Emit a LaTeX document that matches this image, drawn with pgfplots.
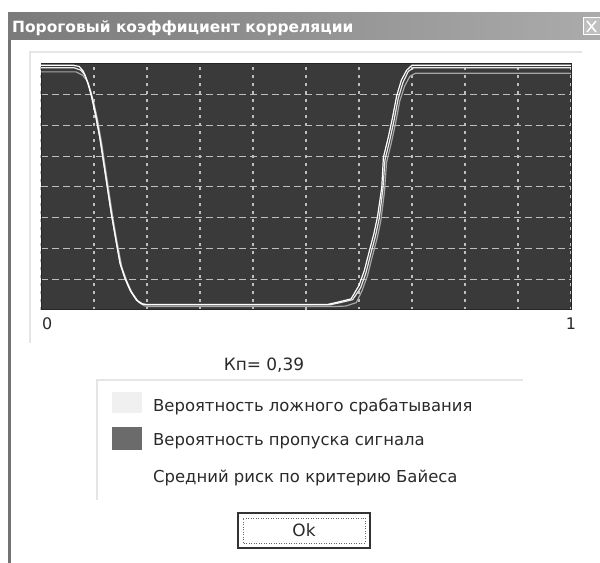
\documentclass[border=0pt]{standalone}
\usepackage{fontspec}
\setmainfont{DejaVu Sans}
\usepackage{pgfplots}
\pgfplotsset{compat=1.18}
\definecolor{plotbg}{HTML}{3A3A3A}
\definecolor{gridc}{HTML}{BEBEBE}
\definecolor{txt}{HTML}{2A2A2A}
\pgfplotstableread{
x y
0 0.995
0.06 0.995
0.072 0.99
0.080 0.97
0.088 0.925
0.095 0.87
0.102 0.80
0.111 0.70
0.118 0.60
0.125 0.50
0.132 0.40
0.140 0.30
0.149 0.19
0.158 0.13
0.168 0.08
0.180 0.04
0.190 0.025
0.200 0.022
0.540 0.022
0.560 0.032
0.585 0.045
0.600 0.10
0.610 0.16
0.620 0.244
0.628 0.31
0.635 0.38
0.643 0.50
0.646 0.62
0.655 0.70
0.663 0.78
0.671 0.87
0.680 0.935
0.690 0.975
0.700 0.995
1 0.995
}\falsealarm
\pgfplotstableread{
x y
0 0.985
0.062 0.985
0.075 0.975
0.083 0.955
0.090 0.915
0.097 0.86
0.104 0.79
0.112 0.69
0.119 0.59
0.126 0.49
0.133 0.39
0.141 0.29
0.150 0.185
0.160 0.125
0.170 0.075
0.182 0.038
0.192 0.024
0.202 0.021
0.545 0.021
0.565 0.030
0.588 0.042
0.603 0.09
0.613 0.15
0.623 0.235
0.631 0.30
0.638 0.37
0.645 0.49
0.649 0.61
0.658 0.69
0.666 0.77
0.674 0.86
0.683 0.925
0.693 0.97
0.703 0.985
1 0.985
}\bayes
\pgfplotstableread{
x y
0 0.968
0.066 0.968
0.078 0.955
0.086 0.935
0.093 0.895
0.100 0.84
0.107 0.77
0.115 0.67
0.122 0.57
0.129 0.47
0.136 0.37
0.144 0.27
0.153 0.17
0.163 0.11
0.173 0.065
0.185 0.03
0.195 0.017
0.205 0.014
0.550 0.014
0.575 0.016
0.595 0.030
0.606 0.08
0.616 0.14
0.626 0.225
0.634 0.29
0.641 0.36
0.648 0.48
0.652 0.60
0.661 0.68
0.669 0.76
0.677 0.85
0.686 0.91
0.696 0.95
0.706 0.962
1 0.962
}\miss
\begin{document}
\begin{tikzpicture}[x=1bp,y=1bp]
\useasboundingbox (0,0) rectangle (600,563);
\fill[white] (0,0) rectangle (600,563);
% window left border
\fill[black!55] (8,0) rectangle (11,550);
% title bar
\shade[left color=black!52, right color=black!33] (8,523) rectangle (600,550);
\node[anchor=west, text=white, inner sep=0pt, font=\bfseries\fontsize{15.5}{18}\selectfont] at (12,535) {Пороговый коэффициент корреляции};
\draw[white, line width=1bp, fill=black!25] (583,528) rectangle (600,545);
\draw[white, line width=1.5bp] (587,531) -- (596,542) (587,542) -- (596,531);
% panel lines
\draw[black!10, line width=1.2bp] (30,220) -- (30,511) -- (582,511);
\begin{axis}[
  at={(41bp,253bp)}, anchor=south west, scale only axis,
  width=530bp, height=246bp,
  xmin=0, xmax=1, ymin=0, ymax=1,
  axis background/.style={fill=plotbg},
  axis line style={black!85, line width=1bp},
  xtick={0,0.1,0.2,0.3,0.4,0.6,0.7,0.8,0.9,1},
  xticklabels={\makebox[0pt][l]{\hspace{1bp}0},,,,,,,,,1},
  ytick={0.125,0.25,0.375,0.625,0.75,0.875},
  yticklabels={},
  extra x ticks={0.5}, extra x tick labels={},
  extra y ticks={0.5}, extra y tick labels={},
  extra tick style={grid style={solid, gridc, line width=1bp}},
  major tick length=0pt,
  grid=major,
  x grid style={gridc, line width=1.2bp, dash pattern=on 3bp off 5bp},
  y grid style={gridc, line width=1bp, dash pattern=on 7bp off 4bp},
  /pgf/number format/assume math mode=true,
  xticklabel style={font=\fontsize{16}{18}\selectfont, text=txt, yshift=-4bp},
  clip=true,
]
\addplot[no marks, color=black!35!white, line width=1.2bp] table {\miss};
\addplot[no marks, color=black!8, line width=1.2bp] table {\bayes};
\addplot[no marks, color=white, line width=1.2bp] table {\falsealarm};
\end{axis}
% K label
\node[font=\fontsize{17}{20}\selectfont, text=txt] at (264,198) {Кп= 0,39};
% legend group box
\draw[black!10, line width=1.2bp] (97,63) -- (97,183) -- (523,183);
\fill[black!6] (112,150) rectangle (142,171);
\fill[black!58] (112,113) rectangle (142,136);
\node[anchor=west, inner sep=0pt, font=\fontsize{16.5}{20}\selectfont, text=txt] at (153,156) {Вероятность ложного срабатывания};
\node[anchor=west, inner sep=0pt, font=\fontsize{16.5}{20}\selectfont, text=txt] at (153,122) {Вероятность пропуска сигнала};
\node[anchor=west, inner sep=0pt, font=\fontsize{16.5}{20}\selectfont, text=txt] at (153,85) {Средний риск по критерию Байеса};
% OK button
\draw[black!80, line width=1.5bp] (238,15) rectangle (370,50);
\draw[black!60, line width=0.8bp, dash pattern=on 1bp off 1.5bp] (243,20) rectangle (365,45);
\node[font=\fontsize{17}{20}\selectfont, text=txt] at (304,32.5) {Ok};
\end{tikzpicture}
\end{document}
